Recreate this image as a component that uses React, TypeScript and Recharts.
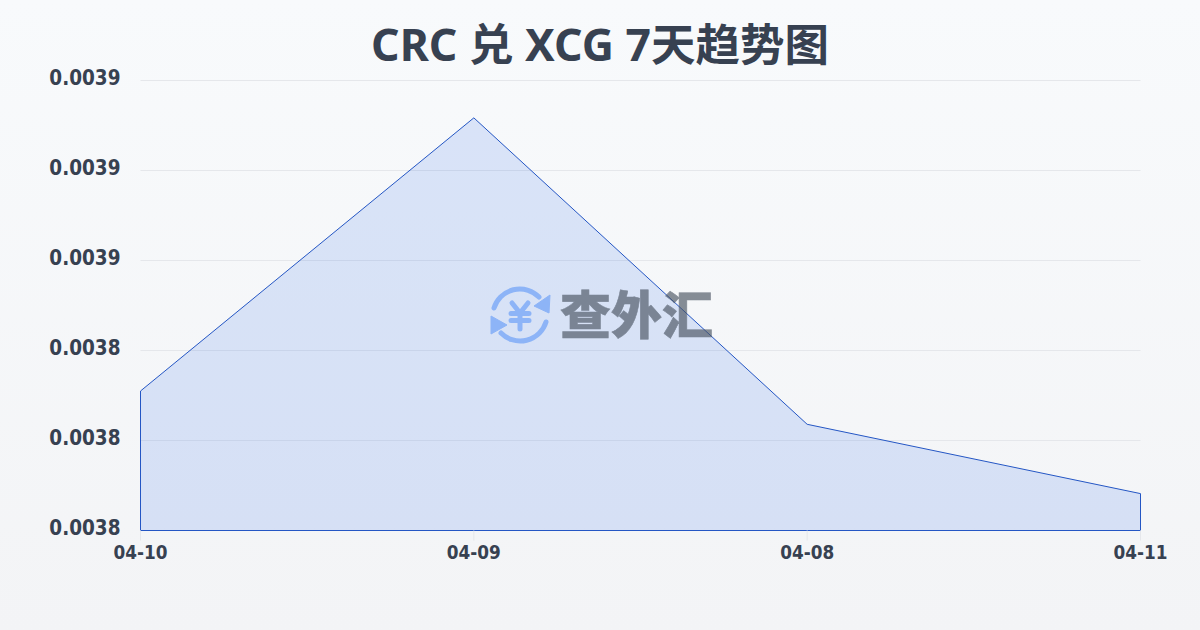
import { Area, AreaChart, CartesianGrid, ReferenceLine, XAxis, YAxis } from 'recharts'

const dates = ['04-10', '04-09', '04-08', '04-11']
const rates = [0.003831, 0.0038917, 0.0038236, 0.0038082]
const yTicks = [0.0038, 0.00382, 0.00384, 0.00386, 0.00388, 0.0039]
const title = 'CRC 兑 XCG 7天趋势图'
const brand = '查外汇'

const data = dates.map((date, i) => ({ date, rate: rates[i] }))
const yMin = yTicks[0]
const yMax = yTicks[yTicks.length - 1]
const FONT = '"Noto Sans", "Noto Sans CJK SC", sans-serif'
const TICK_FONT = '"DejaVu Sans Condensed", "DejaVu Sans", sans-serif'
const LINE = '#2456c4'

function Watermark() {
  return (
    <svg
      width={240}
      height={80}
      viewBox="0 0 240 80"
      style={{ position: 'absolute', left: 480, top: 275, pointerEvents: 'none' }}
    >
      <g fill="none" stroke="#8db4f7" strokeWidth={5} strokeLinecap="round" strokeLinejoin="round">
        <path d="M14 33 A27 27 0 0 1 59 22" />
        <path d="M66 47 A27 27 0 0 1 21 58" />
        <path d="M32 28 L40 38 L48 28 M31 38.5 H49 M31 45.5 H49 M40 38 V54" />
      </g>
      <path d="M70 20 L69 38 L54 31 Z" fill="#8db4f7" stroke="#8db4f7" strokeLinejoin="round" />
      <path d="M11 41 L11 59 L27 50 Z" fill="#8db4f7" stroke="#8db4f7" strokeLinejoin="round" />
      <text
        x={80}
        y={59}
        fontFamily='"Noto Sans CJK SC", sans-serif'
        fontWeight={900}
        fontSize={51}
        fill="#4b5563"
        stroke="#4b5563"
        strokeWidth={0.6}
        opacity={0.66}
      >
        {brand}
      </text>
    </svg>
  )
}

export default function App() {
  return (
    <div
      style={{
        position: 'fixed',
        left: 0,
        top: 0,
        width: 1200,
        height: 630,
        overflow: 'hidden',
        background: 'linear-gradient(180deg, #f8fafc 0%, #f3f4f6 100%)',
        fontFamily: FONT,
      }}
    >
      <div
        style={{
          position: 'absolute',
          left: 0,
          top: 14,
          width: 1200,
          textAlign: 'center',
          fontSize: 44.5,
          lineHeight: '60px',
          fontWeight: 700,
          color: '#374151',
        }}
      >
        {title}
      </div>
      <AreaChart
        width={1200}
        height={630}
        data={data}
        margin={{ top: 80.5, right: 59.5, bottom: 39.5, left: 0 }}
        style={{ position: 'absolute', left: 0, top: 0 }}
      >
        <CartesianGrid vertical={false} stroke="#e5e7eb" strokeWidth={1} />
        <XAxis
          dataKey="date"
          scale="point"
          padding={{ left: 0, right: 0 }}
          axisLine={false}
          tickLine={{ stroke: '#e5e7eb' }}
          tickSize={10}
          tickMargin={5}
          interval={0}
          height={60}
          tick={{ fontSize: 18.75, fontWeight: 700, fill: '#374151', fontFamily: TICK_FONT }}
        />
        <YAxis
          domain={[yMin, yMax]}
          ticks={yTicks}
          width={140.5}
          axisLine={false}
          tickLine={false}
          tickMargin={14}
          tickFormatter={(v: number) => v.toFixed(4)}
          tick={{ fontSize: 20.5, fontWeight: 700, fill: '#374151', fontFamily: TICK_FONT, dy: -3 }}
        />
        <Area
          type="linear"
          dataKey="rate"
          baseValue={yMin}
          stroke={LINE}
          strokeWidth={1}
          fill="#2563eb"
          fillOpacity={0.14}
          dot={false}
          activeDot={false}
          isAnimationActive={false}
        />
        <ReferenceLine
          segment={[
            { x: dates[0], y: yMin },
            { x: dates[0], y: rates[0] },
          ]}
          stroke={LINE}
        />
        <ReferenceLine
          segment={[
            { x: dates[3], y: yMin },
            { x: dates[3], y: rates[3] },
          ]}
          stroke={LINE}
        />
        <ReferenceLine
          segment={[
            { x: dates[0], y: yMin },
            { x: dates[3], y: yMin },
          ]}
          stroke={LINE}
        />
      </AreaChart>
      <Watermark />
    </div>
  )
}
